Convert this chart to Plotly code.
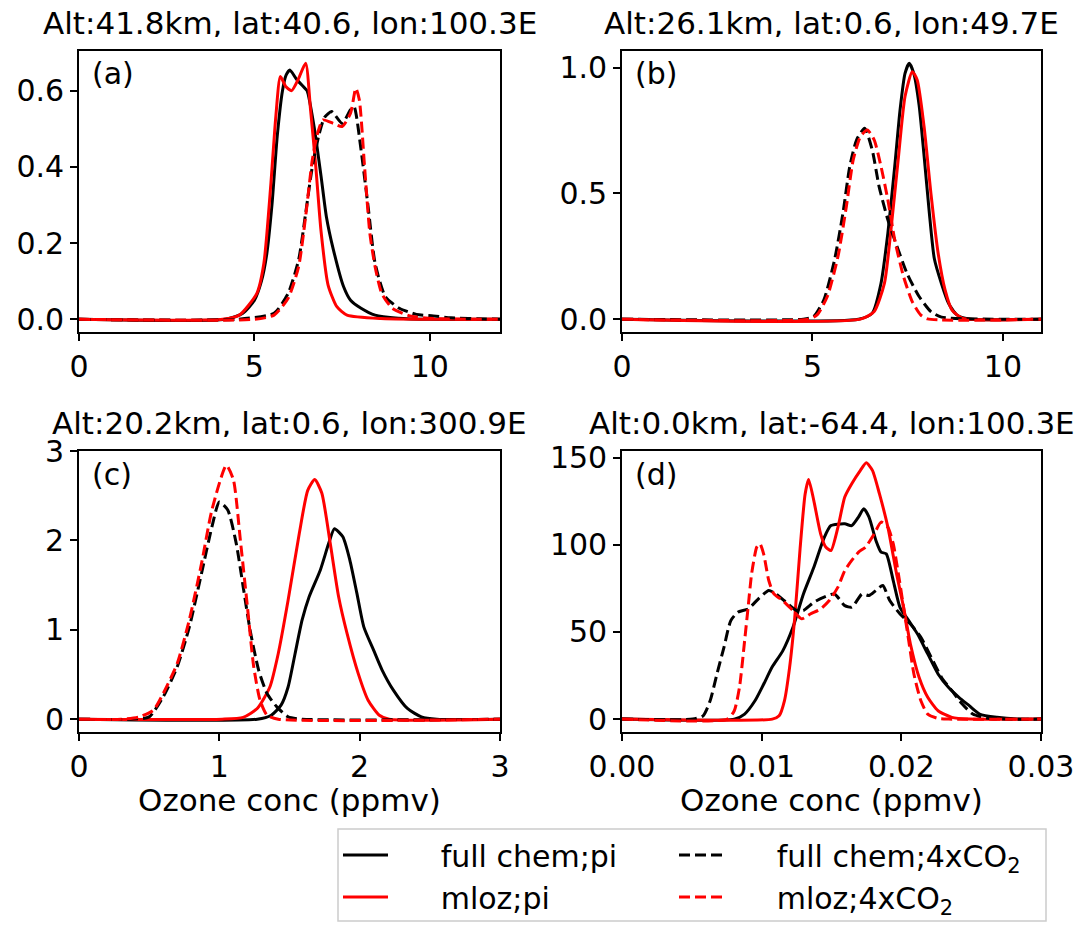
import plotly.graph_objects as go

# screenshot size; the html body has an 8 px margin, so the figure is 16 px smaller
SW, SH = 1089, 931
OFF = 8
W, H = SW - 2 * OFF, SH - 2 * OFF

# ---------------- data ----------------
# Panel (a)  Alt:41.8km
a_full_pi_x = [0, 4.18, 4.67, 5.0, 5.2, 5.35, 5.5, 5.65, 5.8, 5.9, 6.01, 6.2, 6.4, 6.5, 6.7, 6.9, 7.05, 7.25, 7.54, 7.74, 8.04, 8.44, 9.1, 10, 12]
a_full_pi_y = [0, 0, 0.016, 0.05, 0.1, 0.17, 0.3, 0.48, 0.6, 0.64, 0.654, 0.63, 0.61, 0.6, 0.506, 0.375, 0.27, 0.183, 0.086, 0.05, 0.029, 0.011, 0.003, 0, 0]
a_mloz_pi_x = [0, 4.1, 4.57, 5.07, 5.27, 5.47, 5.61, 5.74, 5.9, 6.06, 6.25, 6.46, 6.6, 6.75, 6.9, 7.1, 7.35, 7.64, 8.6, 12]
a_mloz_pi_y = [0, 0, 0.011, 0.068, 0.147, 0.357, 0.532, 0.637, 0.61, 0.6, 0.63, 0.672, 0.55, 0.40, 0.23, 0.09, 0.033, 0.011, 0.002, 0]
a_full_4x_x = [0, 4.5, 5.56, 5.96, 6.26, 6.46, 6.65, 6.85, 7.0, 7.2, 7.5, 7.74, 7.84, 8.04, 8.24, 8.44, 8.73, 9.13, 9.62, 10.1, 10.6, 11.6, 12]
a_full_4x_y = [0, 0, 0.016, 0.068, 0.156, 0.278, 0.40, 0.488, 0.53, 0.545, 0.514, 0.55, 0.558, 0.444, 0.296, 0.147, 0.06, 0.029, 0.013, 0.009, 0.004, 0.001, 0]
a_mloz_4x_x = [0, 5.0, 5.56, 5.96, 6.26, 6.46, 6.65, 6.8, 6.95, 7.25, 7.5, 7.74, 7.89, 7.99, 8.14, 8.29, 8.44, 8.63, 8.93, 9.43, 10.1, 12]
a_mloz_4x_y = [0, 0, 0.011, 0.055, 0.138, 0.27, 0.418, 0.488, 0.523, 0.514, 0.506, 0.541, 0.606, 0.576, 0.40, 0.226, 0.138, 0.068, 0.029, 0.009, 0.002, 0]

# Panel (b)  Alt:26.1km
b_full_pi_x = [0, 6.21, 6.57, 6.8, 6.98, 7.16, 7.3, 7.43, 7.54, 7.66, 7.8, 7.93, 8.07, 8.2, 8.39, 8.57, 8.79, 9.11, 11]
b_full_pi_y = [0, 0, 0.024, 0.143, 0.342, 0.607, 0.832, 0.977, 1.017, 0.977, 0.85, 0.65, 0.42, 0.24, 0.14, 0.064, 0.017, 0.001, 0]
b_mloz_pi_x = [0, 6.26, 6.62, 6.89, 7.07, 7.25, 7.43, 7.62, 7.75, 7.93, 8.11, 8.3, 8.48, 8.66, 8.93, 11]
b_mloz_pi_y = [0, 0, 0.03, 0.143, 0.368, 0.633, 0.885, 0.984, 0.951, 0.766, 0.5, 0.262, 0.117, 0.037, 0.004, 0]
b_full_4x_x = [0, 4.76, 5.03, 5.3, 5.58, 5.8, 5.98, 6.16, 6.37, 6.57, 6.75, 6.98, 7.16, 7.48, 7.8, 8.11, 8.39, 11]
b_full_4x_y = [0, 0, 0.01, 0.077, 0.236, 0.421, 0.607, 0.713, 0.759, 0.672, 0.527, 0.395, 0.315, 0.183, 0.09, 0.03, 0.008, 0]
b_mloz_4x_x = [0, 4.9, 5.12, 5.39, 5.67, 5.89, 6.07, 6.26, 6.44, 6.62, 6.8, 6.98, 7.16, 7.39, 7.62, 7.84, 8.02, 11]
b_mloz_4x_y = [0, 0, 0.017, 0.09, 0.249, 0.448, 0.633, 0.726, 0.752, 0.713, 0.607, 0.474, 0.315, 0.17, 0.07, 0.017, 0.001, 0]

# Panel (c)  Alt:20.2km
c_full_pi_x = [0, 1.27, 1.37, 1.44, 1.49, 1.54, 1.59, 1.64, 1.72, 1.78, 1.82, 1.88, 1.93, 1.98, 2.03, 2.1, 2.16, 2.24, 2.34, 2.44, 2.55, 3]
c_full_pi_y = [0, 0, 0.045, 0.157, 0.36, 0.735, 1.11, 1.37, 1.67, 1.97, 2.13, 2.04, 1.78, 1.41, 1.03, 0.77, 0.55, 0.325, 0.12, 0.026, 0, 0]
c_mloz_pi_x = [0, 1.02, 1.17, 1.27, 1.36, 1.42, 1.49, 1.57, 1.63, 1.68, 1.73, 1.79, 1.85, 1.91, 1.99, 2.06, 2.14, 2.21, 3]
c_mloz_pi_y = [0, 0, 0.02, 0.12, 0.36, 0.735, 1.33, 2.08, 2.56, 2.68, 2.53, 1.97, 1.37, 0.96, 0.51, 0.213, 0.045, 0, 0]
c_full_4x_x = [0, 0.377, 0.5, 0.6, 0.7, 0.786, 0.873, 0.947, 1.0, 1.06, 1.12, 1.17, 1.22, 1.28, 1.34, 1.41, 1.49, 1.59, 3]
c_full_4x_y = [0, 0, 0.026, 0.25, 0.586, 1.03, 1.63, 2.15, 2.43, 2.34, 1.97, 1.48, 0.99, 0.55, 0.287, 0.138, 0.026, 0, 0]
c_mloz_4x_x = [0, 0.3, 0.43, 0.53, 0.6, 0.7, 0.786, 0.873, 0.947, 1.05, 1.1, 1.15, 1.2, 1.245, 1.29, 1.34, 1.42, 3]
c_mloz_4x_y = [0, 0, 0.026, 0.1, 0.287, 0.623, 1.11, 1.74, 2.34, 2.84, 2.68, 2.0, 1.26, 0.586, 0.213, 0.045, 0, 0]

# Panel (d)  Alt:0.0km
d_full_pi_x = [0, 0.00804, 0.00878, 0.00952, 0.01014, 0.01076, 0.0115, 0.01224, 0.01299, 0.01373, 0.01447, 0.01496, 0.01595, 0.01645, 0.01694, 0.01731, 0.01768, 0.01818, 0.01855, 0.01892, 0.01942, 0.01991, 0.02053, 0.02115, 0.02189, 0.02263, 0.02337, 0.02412, 0.02486, 0.0256, 0.02684, 0.02832, 0.03]
d_full_pi_y = [0, 0, 2.9, 10.5, 20, 30, 39, 52.7, 71.8, 87, 104, 111, 112, 111, 116, 120.7, 116, 102.5, 95.8, 94.8, 79.5, 64, 56.5, 48.9, 37.4, 25.9, 18.2, 12.5, 7.7, 2.9, 1, 0, 0]
d_mloz_pi_x = [0, 0.01076, 0.01125, 0.01163, 0.012, 0.01237, 0.01274, 0.01311, 0.01336, 0.01373, 0.01422, 0.01459, 0.01496, 0.01546, 0.01595, 0.01645, 0.01707, 0.01749, 0.01793, 0.01843, 0.01904, 0.01966, 0.02016, 0.02065, 0.02127, 0.02189, 0.02263, 0.02362, 0.02486, 0.03]
d_mloz_pi_y = [0, 0, 1.9, 10.5, 29.7, 58.4, 96.7, 129, 137.5, 125.5, 106.3, 98.7, 96.7, 110, 127.4, 135, 142.7, 147, 142.7, 129.3, 110, 83.3, 64.2, 43.1, 24, 12.5, 4.8, 1, 0, 0]
d_full_4x_x = [0, 0.00507, 0.00581, 0.00631, 0.0068, 0.0073, 0.00779, 0.00829, 0.00903, 0.00977, 0.01051, 0.01101, 0.01175, 0.01249, 0.01299, 0.01373, 0.01447, 0.01521, 0.01595, 0.01645, 0.01719, 0.01768, 0.01818, 0.01867, 0.01917, 0.01991, 0.02065, 0.0214, 0.02214, 0.02288, 0.02362, 0.02436, 0.02511, 0.02609, 0.02733, 0.03]
d_full_4x_y = [0, 0, 1.9, 10.5, 25.9, 41.2, 56.5, 61.3, 63.2, 69, 73.8, 71.8, 67, 62.3, 62.3, 67, 70, 71.8, 65.1, 64.2, 71.8, 70.9, 73.8, 76.6, 68, 60.3, 54.6, 46.9, 35.4, 23.9, 16.3, 8.6, 2.9, 0.6, 0, 0]
d_mloz_4x_x = [0, 0.00754, 0.00804, 0.00841, 0.00878, 0.00903, 0.00928, 0.00965, 0.00987, 0.01014, 0.01051, 0.01088, 0.0115, 0.01224, 0.01286, 0.01348, 0.01422, 0.01484, 0.01546, 0.01595, 0.01645, 0.01694, 0.01744, 0.01806, 0.01855, 0.01904, 0.01942, 0.01979, 0.02016, 0.02053, 0.0209, 0.0214, 0.02189, 0.02263, 0.02337, 0.03]
d_mloz_4x_y = [0, 0, 4.8, 18.2, 45, 64.2, 83.3, 98.7, 100.6, 94.8, 79.5, 71.8, 68, 62.3, 57.5, 60.3, 63.2, 68, 75.7, 85.2, 91, 95.8, 98.7, 106.3, 113, 110, 100.6, 83.3, 64.2, 45, 25.9, 10.5, 2.9, 0.4, 0, 0]

titles = ["Alt:41.8km, lat:40.6, lon:100.3E", "Alt:26.1km, lat:0.6, lon:49.7E",
          "Alt:20.2km, lat:0.6, lon:300.9E", "Alt:0.0km, lat:-64.4, lon:100.3E"]
panel_labels = ["(a)", "(b)", "(c)", "(d)"]
series_names = ["full chem;pi", "mloz;pi", "full chem;4xCO<sub>2</sub>", "mloz;4xCO<sub>2</sub>"]
x_title = "Ozone conc (ppmv)"
x_ranges = [[0, 12], [0, 11], [0, 3], [0, 0.03]]
y_ranges = [[-0.0333, 0.704], [-0.051, 1.066], [-0.143, 3.0], [-7.4, 153.8]]
x_ticks = [[0, 5, 10], [0, 5, 10], [0, 1, 2, 3], [0, 0.01, 0.02, 0.03]]
y_ticks = [[0, 0.2, 0.4, 0.6], [0, 0.5, 1.0], [0, 1, 2, 3], [0, 50, 100, 150]]
x_fmt = ["d", "d", "d", ".2f"]
y_fmt = [".1f", ".1f", "d", "d"]

panels = [
    [(a_full_pi_x, a_full_pi_y), (a_mloz_pi_x, a_mloz_pi_y), (a_full_4x_x, a_full_4x_y), (a_mloz_4x_x, a_mloz_4x_y)],
    [(b_full_pi_x, b_full_pi_y), (b_mloz_pi_x, b_mloz_pi_y), (b_full_4x_x, b_full_4x_y), (b_mloz_4x_x, b_mloz_4x_y)],
    [(c_full_pi_x, c_full_pi_y), (c_mloz_pi_x, c_mloz_pi_y), (c_full_4x_x, c_full_4x_y), (c_mloz_4x_x, c_mloz_4x_y)],
    [(d_full_pi_x, d_full_pi_y), (d_mloz_pi_x, d_mloz_pi_y), (d_full_4x_x, d_full_4x_y), (d_mloz_4x_x, d_mloz_4x_y)],
]

# ---------------- styling ----------------
FONT = "DejaVu Sans"
FS = 30
colors = ["black", "red", "black", "red"]
dashes = ["solid", "solid", "11px,5px", "11px,5px"]
legend_of = ["legend", "legend", "legend2", "legend2"]
GAP = "\u00a0" * 5


def fx(px):  # screenshot pixel -> paper x
    return (px - OFF) / W


def fy(py):  # screenshot pixel -> paper y
    return 1 - (py - OFF) / H


# pixel boxes of the axes in the screenshot: (left, right, top, bottom)
boxes = [(79, 500, 51, 332), (622, 1041, 51, 332), (79, 500, 451, 732), (622, 1041, 451, 732)]

fig = go.Figure()
for p, series in enumerate(panels):
    sfx = "" if p == 0 else str(p + 1)
    for s, (xs, ys) in enumerate(series):
        fig.add_trace(go.Scatter(
            x=xs, y=ys, mode="lines",
            line=dict(color=colors[s], width=3, dash=dashes[s], shape="spline", smoothing=0.6),
            name=GAP + series_names[s], legend=legend_of[s], showlegend=(p == 0),
            xaxis="x" + sfx, yaxis="y" + sfx, hoverinfo="skip"))

axis_common = dict(showline=True, mirror=True, linecolor="black", linewidth=1.6,
                   ticks="outside", ticklen=7, tickwidth=1.6, tickcolor="black",
                   showgrid=False, zeroline=False, automargin=False,
                   tickfont=dict(family=FONT, size=FS, color="black"))

layout = {}
annotations = []
for p in range(4):
    sfx = "" if p == 0 else str(p + 1)
    l, r, t, b = boxes[p]
    xa = dict(axis_common, domain=[fx(l), fx(r)], range=x_ranges[p], tickvals=x_ticks[p],
              tickformat=x_fmt[p], anchor="y" + sfx)
    ya = dict(axis_common, domain=[fy(b), fy(t)], range=y_ranges[p], tickvals=y_ticks[p],
              tickformat=y_fmt[p], anchor="x" + sfx)
    layout["xaxis" + sfx] = xa
    layout["yaxis" + sfx] = ya
    annotations.append(dict(text=titles[p], xref="paper", yref="paper", height=28,
                            x=fx((l + r) / 2), y=fy(t - 28), xanchor="center", yanchor="middle",
                            showarrow=False, font=dict(family=FONT, size=31, color="black")))
    annotations.append(dict(text=panel_labels[p], xref="paper", yref="paper",
                            x=fx(l + 11), y=fy(t + 23), xanchor="left", yanchor="middle",
                            showarrow=False, font=dict(family=FONT, size=FS, color="black")))
    if p >= 2:
        annotations.append(dict(text=x_title, xref="paper", yref="paper",
                                x=fx((l + r) / 2), y=fy(800), xanchor="center", yanchor="middle",
                                showarrow=False, font=dict(family=FONT, size=31, color="black")))

legend_common = dict(yanchor="top", xanchor="left", orientation="v", itemwidth=45,
                     bgcolor="rgba(0,0,0,0)", borderwidth=0, tracegroupgap=0,
                     font=dict(family=FONT, size=FS, color="black"))

fig.update_layout(**layout)
fig.update_layout(
    width=W, height=H, margin=dict(l=0, r=0, t=0, b=0, autoexpand=False),
    paper_bgcolor="white", plot_bgcolor="white",
    font=dict(family=FONT, size=FS, color="black"),
    annotations=annotations,
    legend=dict(legend_common, x=fx(338), y=fy(829)),
    legend2=dict(legend_common, x=fx(674), y=fy(829)),
    shapes=[dict(type="rect", xref="paper", yref="paper", layer="below",
                 x0=fx(338), x1=fx(1046), y0=fy(921), y1=fy(829),
                 line=dict(color="#cccccc", width=1.5), fillcolor="white")],
)

fig.write_html("out.html")
